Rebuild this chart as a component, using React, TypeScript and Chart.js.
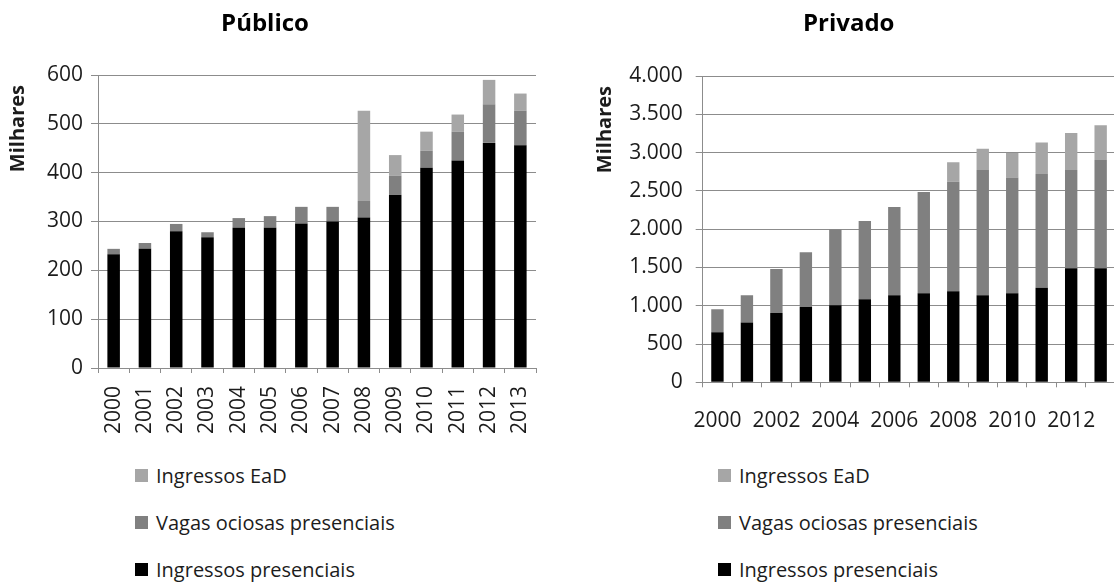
import React, { useEffect, useRef } from 'react';
import { Chart, registerables } from 'chart.js';

Chart.register(...registerables);

// ---------- data ----------
const years = ['2000', '2001', '2002', '2003', '2004', '2005', '2006', '2007', '2008', '2009', '2010', '2011', '2012', '2013'];

const seriesNames = ['Ingressos presenciais', 'Vagas ociosas presenciais', 'Ingressos EaD'];
const seriesColors = ['#000000', '#808080', '#a6a6a6'];

// Público (milhares)
const publicoPresenciais = [233, 244, 280, 268, 287, 287, 296, 300, 308, 355, 410, 425, 461, 456];
const publicoVagas = [11, 12, 15, 10, 20, 24, 34, 30, 34, 39, 35, 59, 79, 71];
const publicoEaD = [0, 0, 0, 0, 0, 0, 0, 0, 185, 42, 39, 35, 50, 35];

// Privado (milhares)
const privadoPresenciais = [653, 780, 905, 984, 1006, 1084, 1136, 1162, 1188, 1136, 1162, 1236, 1489, 1489];
const privadoVagas = [300, 357, 575, 714, 988, 1023, 1154, 1324, 1432, 1637, 1511, 1485, 1284, 1414];
const privadoEaD = [0, 0, 0, 0, 0, 0, 0, 0, 253, 278, 322, 409, 483, 453];

const publicoAxis = { min: 0, max: 600, step: 100 };
const privadoAxis = { min: 0, max: 4000, step: 500 };

// ---------- styling ----------
const FONT = '"Open Sans", "DejaVu Sans", sans-serif';
const TEXT = '#1c1c1c';
const GRID = '#8c8c8c';

function fmt(v: number): string {
  return String(v).replace(/\B(?=(\d{3})+(?!\d))/g, '.');
}

const yTitlePlugin = {
  id: 'yTitleTop',
  afterDraw(chart: any, _args: any, opts: any) {
    const { ctx, chartArea } = chart;
    ctx.save();
    ctx.font = `bold 20px ${FONT}`;
    ctx.fillStyle = TEXT;
    ctx.translate(opts.x, chartArea.top + opts.dy);
    ctx.rotate(-Math.PI / 2);
    ctx.textAlign = 'right';
    ctx.textBaseline = 'middle';
    ctx.fillText(opts.text, 0, 0);
    ctx.restore();
  },
};

type PanelProps = {
  title: string;
  values: number[][];
  axis: { min: number; max: number; step: number };
  left: number;
  width: number;
  height: number;
  padRight: number;
  yWidth: number;
  xHeight: number;
  titlePadBottom: number;
  yLabelPad: number;
  barPct: number;
  rotated: boolean;
  xLabelPad: number;
  yTitleX: number;
};

function Panel(p: PanelProps) {
  const ref = useRef<HTMLCanvasElement | null>(null);
  useEffect(() => {
    if (!ref.current) return;
    const chart = new Chart(ref.current, {
      type: 'bar',
      data: {
        labels: years,
        datasets: p.values.map((vals, i) => ({
          label: seriesNames[i],
          data: vals,
          backgroundColor: seriesColors[i],
          borderWidth: 0,
          barPercentage: p.barPct,
          categoryPercentage: 1,
        })),
      },
      plugins: [yTitlePlugin],
      options: {
        responsive: false,
        animation: false,
        devicePixelRatio: 1,
        layout: { padding: { left: 0, right: p.padRight, top: 0, bottom: 0 } },
        plugins: {
          legend: { display: false },
          tooltip: { enabled: false },
          title: {
            display: true,
            text: p.title,
            color: '#000',
            font: { family: FONT, size: 24, weight: 'bold' },
            padding: { top: 10, bottom: p.titlePadBottom },
          },
          yTitleTop: { text: 'Milhares', x: p.yTitleX, dy: 10 },
        } as any,
        scales: {
          x: {
            stacked: true,
            offset: true,
            grid: {
              display: true,
              offset: true,
              drawOnChartArea: false,
              drawTicks: true,
              tickLength: 5,
              color: GRID,
            },
            border: { display: true, color: GRID, width: 1 },
            ticks: {
              autoSkip: false,
              minRotation: p.rotated ? 90 : 0,
              maxRotation: p.rotated ? 90 : 0,
              padding: p.xLabelPad,
              color: TEXT,
              font: { family: FONT, size: 21 },
              callback: function (this: any, value: any, index: number) {
                if (p.rotated || index % 2 === 0) return this.getLabelForValue(value);
                return '';
              },
            },
            afterFit: (scale: any) => {
              scale.height = p.xHeight;
              scale.paddingLeft = 0;
              scale.paddingRight = 0;
            },
          },
          y: {
            stacked: true,
            min: p.axis.min,
            max: p.axis.max,
            grid: {
              display: true,
              drawOnChartArea: true,
              drawTicks: true,
              tickLength: 7,
              color: GRID,
            },
            border: { display: true, color: GRID, width: 1 },
            ticks: {
              stepSize: p.axis.step,
              padding: p.yLabelPad,
              color: TEXT,
              font: { family: FONT, size: 21 },
              callback: (v: any) => fmt(Number(v)),
            },
            afterFit: (scale: any) => {
              scale.width = p.yWidth;
            },
          },
        },
      } as any,
    });
    return () => chart.destroy();
  }, []);
  return (
    <canvas
      ref={ref}
      width={p.width}
      height={p.height}
      style={{ position: 'absolute', left: p.left, top: 0, width: p.width, height: p.height }}
    />
  );
}

function Legend({ left }: { left: number }) {
  const order = [2, 1, 0];
  const centers = [475, 522, 569];
  return (
    <>
      {order.map((si, k) => (
        <div
          key={si}
          style={{
            position: 'absolute',
            left,
            top: centers[k] - 14,
            height: 28,
            display: 'flex',
            alignItems: 'center',
            fontFamily: FONT,
            fontSize: 20,
            color: TEXT,
            whiteSpace: 'nowrap',
          }}
        >
          <span style={{ display: 'inline-block', width: 13, height: 13, background: seriesColors[si], marginRight: 8 }} />
          <span>{seriesNames[si]}</span>
        </div>
      ))}
    </>
  );
}

export default function App() {
  return (
    <div
      style={{
        position: 'absolute',
        left: 0,
        top: 0,
        width: 1114,
        height: 582,
        overflow: 'hidden',
        background: '#fff',
      }}
    >
      <Panel
        title="Público"
        values={[publicoPresenciais, publicoVagas, publicoEaD]}
        axis={publicoAxis}
        left={-6}
        width={566}
        height={450}
        padRight={24}
        yWidth={104}
        xHeight={82}
        titlePadBottom={36.2}
        yLabelPad={8}
        barPct={0.4}
        rotated={true}
        xLabelPad={13}
        yTitleX={24}
      />
      <Panel
        title="Privado"
        values={[privadoPresenciais, privadoVagas, privadoEaD]}
        axis={privadoAxis}
        left={582}
        width={540}
        height={450}
        padRight={6.6}
        yWidth={120.7}
        xHeight={67.7}
        titlePadBottom={37.2}
        yLabelPad={13}
        barPct={0.42}
        rotated={false}
        xLabelPad={21}
        yTitleX={23}
      />
      <Legend left={135} />
      <Legend left={718} />
    </div>
  );
}
